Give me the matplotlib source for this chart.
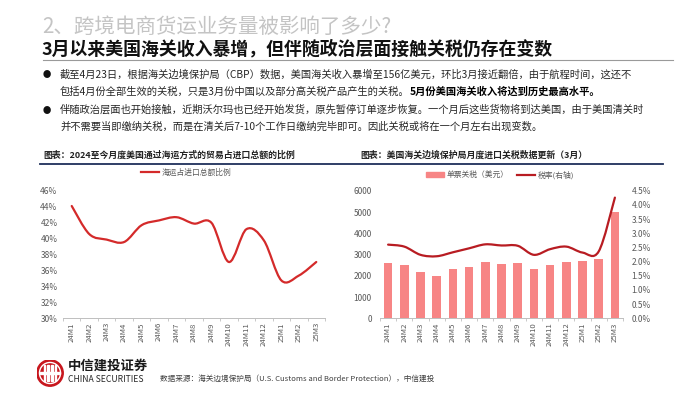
import matplotlib
matplotlib.use("Agg")
import matplotlib.pyplot as plt
from matplotlib.path import Path
from matplotlib.patches import PathPatch, Patch, Circle, Rectangle
from matplotlib.lines import Line2D
from matplotlib.ticker import FuncFormatter, FixedLocator

plt.rcParams['font.family'] = ['Noto Sans CJK SC', 'DejaVu Sans']

# ---------------- data ----------------
months = ["24M1", "24M2", "24M3", "24M4", "24M5", "24M6", "24M7", "24M8",
          "24M9", "24M10", "24M11", "24M12", "25M1", "25M2", "25M3"]
sea_share = [44.0, 40.5, 39.8, 39.5, 41.6, 42.2, 42.6, 41.8,
             41.9, 37.0, 41.1, 39.7, 34.7, 35.3, 37.0]
tariff_per_entry = [2600, 2500, 2200, 2000, 2300, 2400, 2650, 2550,
                    2600, 2330, 2500, 2650, 2700, 2800, 5000]
tariff_rate = [2.60, 2.53, 2.24, 2.19, 2.33, 2.47, 2.61, 2.57,
               2.56, 2.24, 2.44, 2.53, 2.32, 2.36, 4.26]

left_title = "图表：2024至今月度美国通过海运方式的贸易占进口总额的比例"
right_title = "图表：美国海关边境保护局月度进口关税数据更新（3月）"
left_legend = "海运占进口总额比例"
bar_legend = "单票关税（美元）"
rate_legend = "税率(右轴)"

W, H = 700, 394
fig = plt.figure(figsize=(W / 100, H / 100), dpi=100)
fig.patch.set_facecolor("white")


def P(x, y):
    return (x / W, 1 - y / H)


def smooth_path(xs, ys):
    pts = list(zip(xs, ys))
    n = len(pts)
    verts = [pts[0]]
    codes = [Path.MOVETO]
    for i in range(n - 1):
        p0 = pts[i - 1] if i > 0 else pts[i]
        p1 = pts[i]
        p2 = pts[i + 1]
        p3 = pts[i + 2] if i + 2 < n else pts[i + 1]
        c1 = (p1[0] + (p2[0] - p0[0]) / 6, p1[1] + (p2[1] - p0[1]) / 6)
        c2 = (p2[0] - (p3[0] - p1[0]) / 6, p2[1] - (p3[1] - p1[1]) / 6)
        verts += [c1, c2, p2]
        codes += [Path.CURVE4] * 3
    return Path(verts, codes)


# ---------------- header ----------------
fig.text(*P(42, 27), "2、跨境电商货运业务量被影响了多少?", fontsize=14.8,
         color="#c4c4c4", va="center", ha="left")
fig.text(*P(42, 49), "3月以来美国海关收入暴增，但伴随政治层面接触关税仍存在变数",
         fontsize=12.9, fontweight="bold", color="#111111", va="center", ha="left")
fig.add_artist(Line2D([43 / W, 673 / W], [1 - 60 / H, 1 - 60 / H],
                      color="#9a9a9a", lw=0.8))

bfs = 7.4
tc = "#262626"
for yy in (75, 110):
    fig.text(*P(47, yy), "●", fontsize=6, color="#111111", va="center", ha="center")
fig.text(*P(60, 75), "截至4月23日，根据海关边境保护局（CBP）数据，美国海关收入暴增至156亿美元，环比3月接近翻倍，由于航程时间，这还不",
         fontsize=bfs, color=tc, va="center", ha="left")
t2 = fig.text(*P(60, 92), "包括4月份全部生效的关税，只是3月份中国以及部分高关税产品产生的关税。",
              fontsize=bfs, color=tc, va="center", ha="left")
fig.canvas.draw()
r = fig.canvas.get_renderer()
bb = t2.get_window_extent(renderer=r)
fig.text(bb.x1 / W, 1 - 92 / H, "5月份美国海关收入将达到历史最高水平。",
         fontsize=bfs, fontweight="bold", color="#000000", va="center", ha="left")
fig.text(*P(60, 110), "伴随政治层面也开始接触，近期沃尔玛也已经开始发货，原先暂停订单逐步恢复。一个月后这些货物将到达美国，由于美国清关时",
         fontsize=bfs, color=tc, va="center", ha="left")
fig.text(*P(60, 127), "并不需要当即缴纳关税，而是在清关后7-10个工作日缴纳完毕即可。因此关税或将在一个月左右出现变数。",
         fontsize=bfs, color=tc, va="center", ha="left")

# ---------------- chart titles ----------------
fig.text(*P(43, 155), left_title, fontsize=6.4, fontweight="bold",
         style="italic", color="#222222", va="center", ha="left")
fig.text(*P(360, 155), right_title, fontsize=6.4, fontweight="bold",
         style="italic", color="#222222", va="center", ha="left")
fig.add_artist(Line2D([40 / W, 663 / W], [1 - 163.5 / H, 1 - 163.5 / H],
                      color="#1f2f5a", lw=1.3))

tick_c = "#595959"
x = list(range(len(months)))

# ---------------- left chart ----------------
ax1 = fig.add_axes([63 / W, 1 - 318 / H, 262 / W, 128 / H])
ax1.set_xlim(-0.5, len(months) - 0.5)
ax1.set_ylim(30, 46)
ax1.set_yticks(range(30, 47, 2))
ax1.yaxis.set_major_formatter(FuncFormatter(lambda v, p: f"{v:.0f}%"))
ax1.add_patch(PathPatch(smooth_path(x, sea_share), fill=False,
                        edgecolor="#d42a2a", lw=1.6, capstyle="round"))
ax1.set_xticks(x)
ax1.set_xticklabels(months, rotation=90, fontsize=5.6, color=tick_c)
ax1.xaxis.set_minor_locator(FixedLocator([i - 0.5 for i in range(len(months) + 1)]))
ax1.tick_params(axis="x", which="major", length=0, pad=3)
ax1.tick_params(axis="x", which="minor", length=2.5, color="#bfbfbf", width=0.6)
ax1.tick_params(axis="y", length=0, labelsize=6, labelcolor=tick_c, pad=4)
for s in ("top", "right", "left"):
    ax1.spines[s].set_visible(False)
ax1.spines["bottom"].set_color("#bfbfbf")
ax1.spines["bottom"].set_linewidth(0.7)
ax1.legend(handles=[Line2D([], [], color="#d42a2a", lw=1.6, label=left_legend)],
           loc="center", bbox_to_anchor=(P(186, 173)), bbox_transform=fig.transFigure,
           frameon=False, fontsize=5.6, handlelength=2.3, handletextpad=0.3,
           labelcolor=tick_c)

# ---------------- right chart ----------------
ax2 = fig.add_axes([380 / W, 1 - 318.3 / H, 243 / W, 127.5 / H])
ax2.bar(x, tariff_per_entry, width=0.52, color="#f78585", zorder=2)
ax2.set_xlim(-0.5, len(months) - 0.5)
ax2.set_ylim(0, 6000)
ax2.set_yticks(range(0, 6001, 1000))
ax2.set_xticks(x)
ax2.set_xticklabels(months, rotation=90, fontsize=5.6, color=tick_c)
ax2.xaxis.set_minor_locator(FixedLocator([i - 0.5 for i in range(len(months) + 1)]))
ax2.tick_params(axis="x", which="major", length=0, pad=3)
ax2.tick_params(axis="x", which="minor", length=2.5, color="#bfbfbf", width=0.6)
ax2.tick_params(axis="y", length=0, labelsize=6, labelcolor=tick_c, pad=6)
for s in ("top", "right", "left"):
    ax2.spines[s].set_visible(False)
ax2.spines["bottom"].set_color("#bfbfbf")
ax2.spines["bottom"].set_linewidth(0.7)

ax3 = ax2.twinx()
ax3.set_ylim(0, 4.5)
ax3.set_yticks([i * 0.5 for i in range(10)])
ax3.yaxis.set_major_formatter(FuncFormatter(lambda v, p: f"{v:.1f}%"))
ax3.add_patch(PathPatch(smooth_path(x, tariff_rate), fill=False,
                        edgecolor="#b81c22", lw=1.6, capstyle="round", zorder=3))
ax3.tick_params(axis="y", length=0, labelsize=6, labelcolor=tick_c, pad=6)
for s in ("top", "right", "left", "bottom"):
    ax3.spines[s].set_visible(False)
ax3.legend(handles=[Patch(color="#f78585", label=bar_legend),
                    Line2D([], [], color="#b81c22", lw=1.6, label=rate_legend)],
           loc="center", bbox_to_anchor=(P(500, 175)), bbox_transform=fig.transFigure,
           ncol=2, frameon=False, fontsize=5.6, handlelength=2.3, handleheight=0.6,
           handletextpad=0.3, columnspacing=1.2, labelcolor=tick_c)

# ---------------- footer / logo ----------------
logo = fig.add_axes([(50 - 13.5) / W, 1 - (373 + 13.5) / H, 27 / W, 27 / H])
logo.set_xlim(-1, 1)
logo.set_ylim(-1, 1)
logo.set_aspect("equal")
logo.axis("off")
logo.add_patch(Circle((0, 0), 0.98, color="#c8161d"))
for xv in (-0.42, -0.14, 0.14, 0.42):
    logo.add_patch(Rectangle((xv - 0.06, -0.62), 0.12, 1.24, color="white"))
logo.add_patch(Rectangle((-0.72, -0.06), 1.44, 0.12, color="white"))
logo.add_patch(Circle((0, 0), 0.78, fill=False, edgecolor="white", lw=1.0))

fig.text(*P(68, 366), "中信建投证券", fontsize=9.6, fontweight="bold",
         color="#1a1a1a", va="center", ha="left")
fig.text(*P(68, 379), "CHINA SECURITIES", fontsize=6.2, color="#262626",
         va="center", ha="left")
fig.text(*P(160, 379), "数据来源：海关边境保护局（U.S. Customs and Border Protection），中信建投",
         fontsize=5.5, color="#404040", va="center", ha="left")

fig.savefig("out.png", dpi=100, facecolor="white")
